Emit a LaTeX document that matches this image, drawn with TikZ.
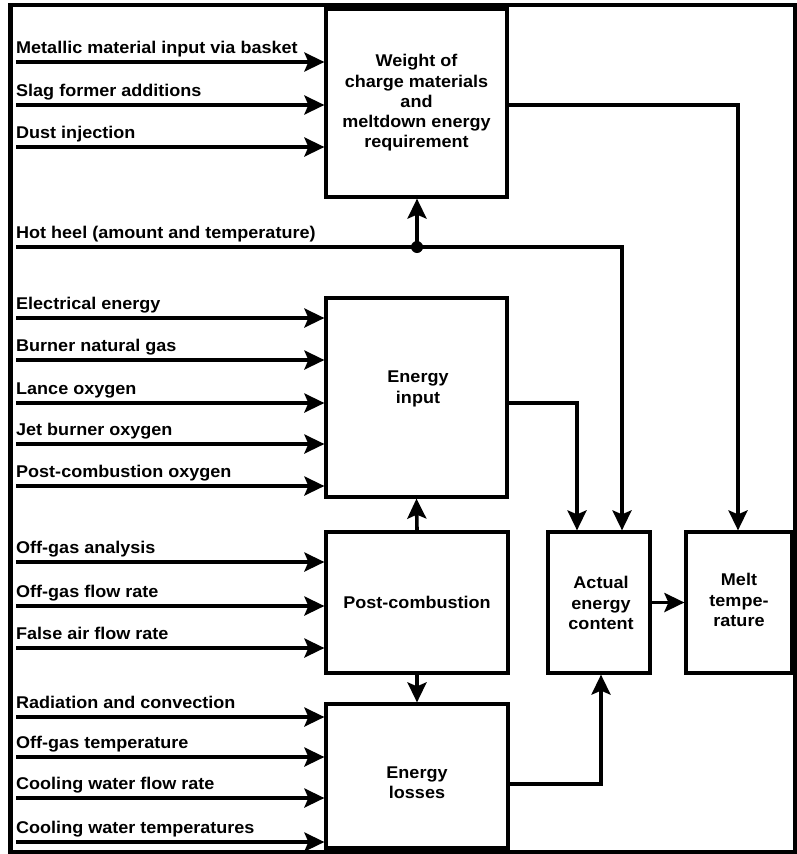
\documentclass[tikz,border=0pt]{standalone}
\usepackage{fontspec}
\setmainfont{Liberation Sans}[FakeStretch=1.06]
\usetikzlibrary{arrows.meta}
\begin{document}
\begin{tikzpicture}[x=1pt,y=-1pt,
  font=\fontsize{17}{20.3}\selectfont\bfseries,
  blk/.style={draw, line width=3.2pt, inner sep=0pt, align=center},
  lbl/.style={anchor=base west, inner sep=0pt},
  arr/.style={line width=3.6pt, arrows={-Stealth[length=20pt,width=19pt,inset=4pt]}},
]
\useasboundingbox (0,0) rectangle (797,854);
\draw[line width=4.5pt] (10.5,5) rectangle (795,852);

% boxes
\node[blk, minimum width=181pt, minimum height=188pt] (W) at (416.5,103) {};
\node[align=center] (Wt) at (416.5,103) {Weight of\\charge materials\\and\\meltdown energy\\requirement};
\node[blk, minimum width=181pt, minimum height=199pt] (EI) at (416.5,397.5) {};
\node[align=center] (EIt) at (418,389) {Energy\\input};
\node[blk, minimum width=182pt, minimum height=141pt] (PC) at (417,602.5) {Post-combustion};
\node[blk, minimum width=182pt, minimum height=144pt] (EL) at (417,776) {};
\node[align=center] (ELt) at (417,783) {Energy\\losses};
\node[blk, minimum width=102pt, minimum height=141pt] (AE) at (599,602.5) {};
\node[align=center] (AEt) at (601,603) {Actual\\energy\\content};
\node[blk, minimum width=106pt, minimum height=141pt] (MT) at (739,602.5) {};
\node[align=center] (MTt) at (739,600) {Melt\\tempe-\\rature};

% left inputs: name / line y / text
\foreach \n/\y/\t in {
  a1/62/Metallic material input via basket,
  a2/105/Slag former additions,
  a3/147/Dust injection,
  b1/318/Electrical energy,
  b2/360/Burner natural gas,
  b3/403/Lance oxygen,
  b4/444/Jet burner oxygen,
  b5/486/Post-combustion oxygen,
  c1/562/Off-gas analysis,
  c2/606/Off-gas flow rate,
  c3/648/False air flow rate,
  d1/717/Radiation and convection,
  d2/757/Off-gas temperature,
  d3/798/Cooling water flow rate,
  d4/842/Cooling water temperatures}{
  \coordinate (s\n) at (16,\y);
  \node[lbl] (t\n) at (16,\y-9) {\t};
}
\foreach \n in {a1,a2,a3}{\draw[arr] (s\n) -- (s\n -| W.west);}
\foreach \n in {b1,b2,b3,b4,b5}{\draw[arr] (s\n) -- (s\n -| EI.west);}
\foreach \n in {c1,c2,c3}{\draw[arr] (s\n) -- (s\n -| PC.west);}
\foreach \n in {d1,d2,d3,d4}{\draw[arr] (s\n) -- (s\n -| EL.west);}

% hot heel
\coordinate (sh) at (16,247);
\node[lbl] (th) at (16,238) {Hot heel (amount and temperature)};
\coordinate (J) at (417,247);
\coordinate (hk) at (622,247);
\draw[arr] (sh) -- (hk) -- (hk |- AE.north);
\draw[arr] (J) -- (J |- W.south);
\fill (J) circle (6pt);

% weight -> melt
\coordinate (wm) at (738,105);
\draw[arr] (W.east |- wm) -- (wm) -- (wm |- MT.north);

% energy input -> actual
\coordinate (ea) at (577,403);
\draw[arr] (EI.east |- ea) -- (ea) -- (ea |- AE.north);

% post-combustion up/down
\draw[arr] (PC.north) -- (EI.south);
\draw[arr] (PC.south) -- (EL.north);

% losses -> actual
\coordinate (la) at (601,784);
\draw[arr] (EL.east |- la) -- (la) -- (la |- AE.south);

% actual -> melt
\draw[arr] (AE.east) -- (MT.west);
\end{tikzpicture}
\end{document}
